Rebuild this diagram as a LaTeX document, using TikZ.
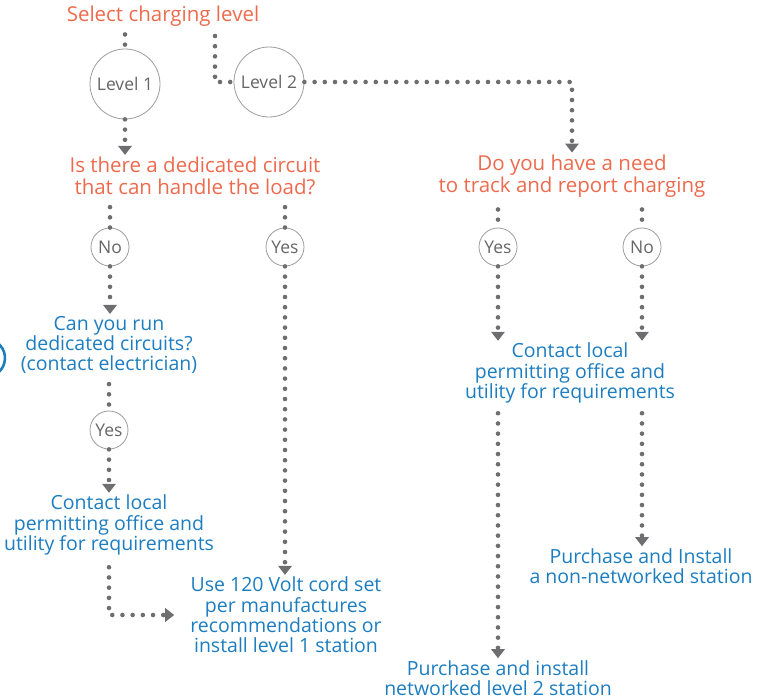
\documentclass[tikz,border=0pt]{standalone}
\usepackage{fontspec}
\setmainfont{Open Sans}
\usetikzlibrary{arrows.meta}

\definecolor{askorange}{HTML}{EE6A4D}
\definecolor{doblue}{HTML}{1C7DC0}
\definecolor{dotgray}{HTML}{6E6E70}
\definecolor{ringgray}{HTML}{9C9C9C}

\tikzset{
  ask/.style={text=askorange, align=center, font=\fontsize{20.5}{22}\selectfont, inner sep=2pt},
  todo/.style={text=doblue, align=center, font=\fontsize{19.5}{20.3}\selectfont, inner sep=2pt},
  ring/.style={circle, draw=ringgray, line width=0.8pt, text=black!60, inner sep=0pt,
               minimum size=#1, font=\fontsize{17.5}{18}\selectfont},
  dots/.style={draw=dotgray, line width=4.6pt, line cap=round, dash pattern=on 0pt off 10.2pt},
  go/.style={dots, -{Triangle[width=14pt,length=9pt,fill=dotgray,line width=0pt]}},
}

\begin{document}
\begin{tikzpicture}[x=1pt,y=-1pt]
  \useasboundingbox (0,0) rectangle (758,699);

  % questions
  \node[ask] (title) at (163,16) {Select charging level};
  \node[ask] (q1) at (195,176) {Is there a dedicated circuit\\that can handle the load?};
  \node[ask] (q2) at (572,176) {Do you have a need\\to track and report charging};

  % circles
  \node[ring=70pt] (l1) at (125,84) {Level 1};
  \node[ring=70pt] (l2) at (269,82) {Level 2};
  \node[ring=38pt] (no1) at (110,247) {No};
  \node[ring=38pt] (yes1) at (285,247) {Yes};
  \node[ring=38pt] (yes2) at (498,247) {Yes};
  \node[ring=38pt] (no2) at (642,247) {No};
  \node[ring=38pt] (yes3) at (109,430) {Yes};

  % answers
  \node[todo] (run) at (109,345) {Can you run\\dedicated circuits?\\(contact electrician)};
  \node[todo] (contact1) at (109,525) {Contact local\\permitting office and\\utility for requirements};
  \node[todo] (cord) at (286,615) {Use 120 Volt cord set\\per manufactures\\recommendations or\\install level 1 station};
  \node[todo] (contact2) at (570,373) {Contact local\\permitting office and\\utility for requirements};
  \node[todo] (net) at (498,678) {Purchase and install\\networked level 2 station};
  \node[todo] (nonnet) at (641,566) {Purchase and Install\\a non-networked station};

  \coordinate (l2in) at (215,36);

  % connectors
  \draw[dots] ([yshift=-6pt]l1 |- title.south) -- (l1.north);
  \draw[go] (l1.south) -- (l1 |- q1.north);
  \draw[dots] (l2in) |- (l2.west);
  \draw[go] (l2.east) -| (q2.north);

  \draw[dots] ([yshift=-10pt]no1 |- q1.south) -- (no1.north);
  \draw[dots] ([yshift=-10pt]yes1 |- q1.south) -- (yes1.north);
  \draw[dots] ([yshift=-10pt]yes2 |- q2.south) -- (yes2.north);
  \draw[dots] ([yshift=-10pt]no2 |- q2.south) -- (no2.north);

  \draw[go] (no1.south) -- (no1 |- run.north);
  \draw[dots] ([yshift=-8pt]yes3 |- run.south) -- (yes3.north);
  \draw[go] (yes3.south) -- (yes3 |- contact1.north);
  \draw[go] ([yshift=-10pt]contact1.south) |- ([xshift=-14pt]cord.west);
  \draw[go] (yes1.south) -- (yes1 |- cord.north);

  \draw[go] (yes2.south) -- (yes2 |- contact2.north);
  \draw[go] (no2.south) -- (no2 |- contact2.north);
  \draw[go] ([yshift=-8pt]net |- contact2.south) -- (net.north);
  \draw[go] ([yshift=-8pt]no2 |- contact2.south) -- (no2 |- nonnet.north);

  % cut-off ring at the left edge
  \draw[doblue, line width=2.6pt] (-14,358) ++(-60:19pt) arc[start angle=-60, end angle=60, radius=19pt];
\end{tikzpicture}
\end{document}
